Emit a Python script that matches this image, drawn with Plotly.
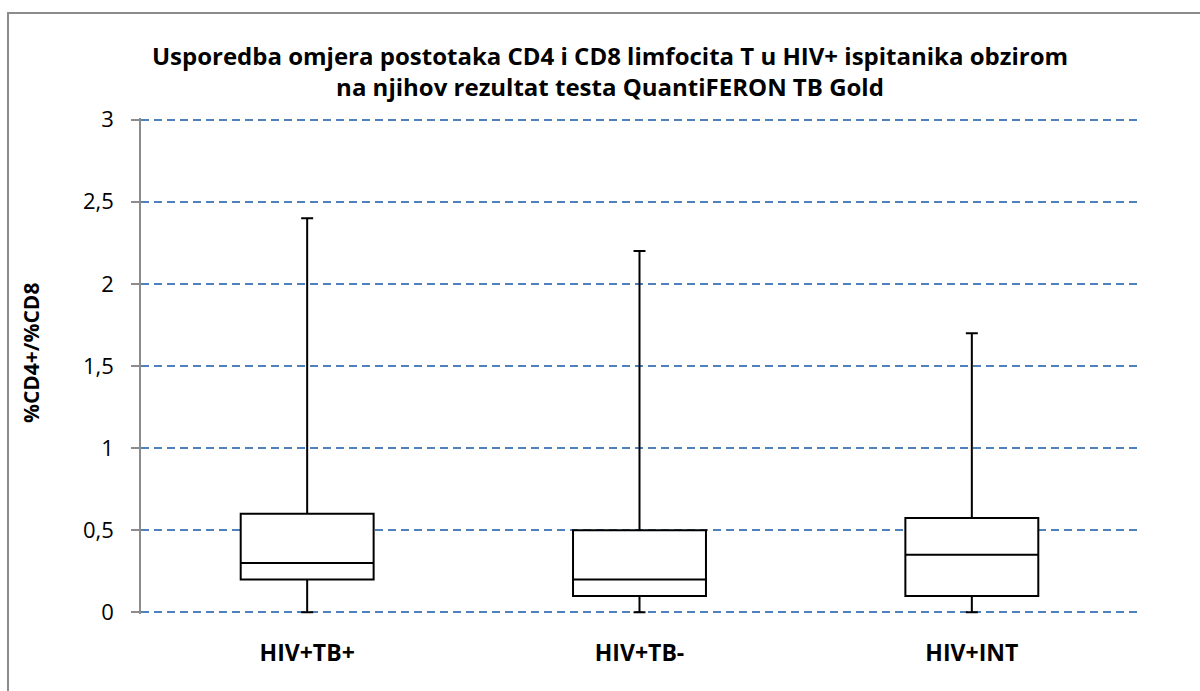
import plotly.graph_objects as go

categories = ["HIV+TB+", "HIV+TB-", "HIV+INT"]
q1_vals = [0.2, 0.1, 0.1]
median_vals = [0.3, 0.2, 0.35]
q3_vals = [0.6, 0.5, 0.575]
lower_vals = [0.0, 0.0, 0.0]
upper_vals = [2.4, 2.2, 1.7]
y_ticks = [0, 0.5, 1, 1.5, 2, 2.5, 3]
y_ticktext = ["0", "0,5", "1", "1,5", "2", "2,5", "3"]

title_text = ("Usporedba omjera postotaka CD4 i CD8 limfocita T u HIV+ ispitanika obzirom"
              "<br>na njihov rezultat testa QuantiFERON TB Gold")
y_title = "%CD4+/%CD8"

W, H = 1200, 691
L, R, T, B = 141, 62, 118, 77
pw, ph = W - L - R, H - T - B
PAD = 0.01  # small range padding so the edge gridlines are drawn

def px_x(p):
    return (p - L) / pw

def px_y(p):
    return (H - B - p) / ph

FONT = "'Open Sans', 'Noto Sans', sans-serif"

fig = go.Figure()
fig.add_trace(go.Box(
    x=categories,
    q1=q1_vals,
    median=median_vals,
    q3=q3_vals,
    lowerfence=lower_vals,
    upperfence=upper_vals,
    boxpoints=False,
    fillcolor="white",
    line=dict(color="black", width=2),
    whiskerwidth=0.09,
    width=0.4,
    showlegend=False,
    hoverinfo="skip",
))

fig.update_layout(
    width=W, height=H,
    margin=dict(l=L, r=R, t=T, b=B),
    paper_bgcolor="white",
    plot_bgcolor="white",
    font=dict(family=FONT, color="black"),
    title=dict(
        text="<b>" + title_text + "</b>",
        x=610 / W, xanchor="center",
        y=1 - 64.5 / H, yanchor="middle",
        font=dict(size=24, family=FONT, color="black"),
    ),
    xaxis=dict(
        range=[-0.5, 2.5],
        showgrid=False, zeroline=False, showline=False,
        ticks="",
        tickfont=dict(size=23, family=FONT, color="black", weight="bold"),
        ticklabelstandoff=23,
        fixedrange=True,
    ),
    yaxis=dict(
        range=[-PAD, 3 + PAD],
        tickvals=y_ticks,
        ticktext=y_ticktext,
        showgrid=True,
        gridcolor="#4f81bd",
        gridwidth=1.5,
        griddash="8px,5px",
        zeroline=False,
        showline=True,
        linecolor="#8c8c8c",
        linewidth=1.5,
        ticks="outside",
        ticklen=8,
        tickcolor="#8c8c8c",
        tickwidth=1.5,
        tickfont=dict(size=22, family=FONT, color="black"),
        ticklabelstandoff=13,
        fixedrange=True,
    ),
    annotations=[dict(
        text="<b>" + y_title + "</b>",
        xref="paper", yref="paper",
        x=px_x(31), y=px_y(353),
        xanchor="center", yanchor="middle",
        textangle=-90,
        showarrow=False,
        font=dict(size=21, family=FONT, color="black"),
    )],
    shapes=[dict(
        type="rect", xref="paper", yref="paper",
        x0=px_x(8), x1=px_x(1215),
        y0=px_y(705), y1=px_y(13),
        line=dict(color="#8c8c8c", width=2),
        fillcolor="rgba(0,0,0,0)",
        layer="below",
    )],
)

fig.write_html(
    "out.html",
    config={"displayModeBar": False},
    post_script="document.body.style.margin='0';document.body.style.overflow='hidden';",
)
